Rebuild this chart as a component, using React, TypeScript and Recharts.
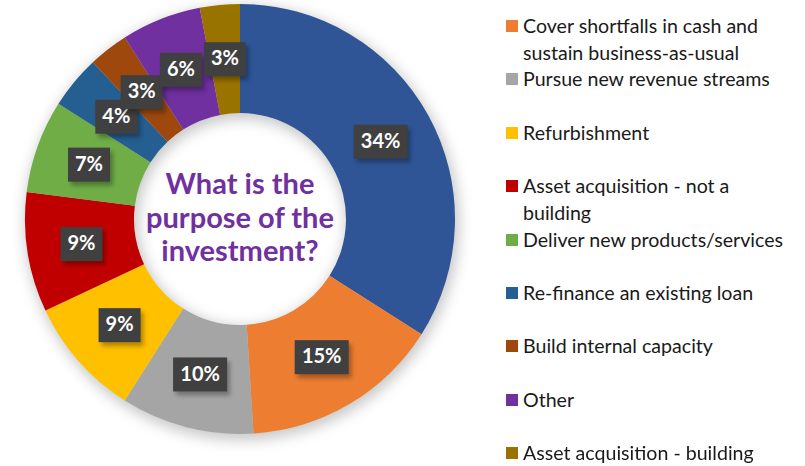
import { PieChart, Pie, Cell, Legend } from "recharts"

const categories = [
  "Main purpose",
  "Cover shortfalls in cash and sustain business-as-usual",
  "Pursue new revenue streams",
  "Refurbishment",
  "Asset acquisition - not a building",
  "Deliver new products/services",
  "Re-finance an existing loan",
  "Build internal capacity",
  "Other",
  "Asset acquisition - building",
]
const shares = [34, 15, 10, 9, 9, 7, 4, 3, 6, 3]
const colors = [
  "#2F5597", "#ED7D31", "#A5A5A5", "#FFC000", "#C00000",
  "#70AD47", "#255E91", "#9E480E", "#7030A0", "#997300",
]
// legend lines as wrapped in the original (first slice has no visible entry)
const legendLines = [
  ["Cover shortfalls in cash and", "sustain business-as-usual"],
  ["Pursue new revenue streams"],
  ["Refurbishment"],
  ["Asset acquisition - not a", "building"],
  ["Deliver new products/services"],
  ["Re-finance an existing loan"],
  ["Build internal capacity"],
  ["Other"],
  ["Asset acquisition - building"],
]
const centerLines = ["What is the", "purpose of the", "investment?"]

const data = categories.map((name, i) => ({ name, value: shares[i] }))
const RADIAN = Math.PI / 180

function renderLabel(props: any) {
  const { cx, cy, midAngle, innerRadius, outerRadius, value } = props
  const r = (innerRadius + outerRadius) / 2
  const x = cx + r * Math.cos(-midAngle * RADIAN)
  const y = cy + r * Math.sin(-midAngle * RADIAN)
  const txt = `${value}%`
  const w = 18 + 12 * txt.length
  const h = 34
  return (
    <g>
      <rect x={x - w / 2 + 3} y={y - h / 2 + 4} width={w} height={h} fill="rgba(0,0,0,0.3)" style={{ filter: "blur(2px)" }} />
      <rect x={x - w / 2} y={y - h / 2} width={w} height={h} fill="#404040" />
      <text x={x} y={y + 1} fill="#fff" textAnchor="middle" dominantBaseline="middle"
        fontFamily="Lato, sans-serif" fontWeight={700} fontSize={20}>
        {txt}
      </text>
    </g>
  )
}

function LegendBox() {
  return (
    <div style={{ position: "relative", width: 300, height: 466, fontFamily: "Lato, sans-serif", fontSize: 19.6, color: "#1a1a1a" }}>
      {legendLines.map((lines, i) => (
        <div key={i} style={{ position: "absolute", left: 0, top: 26 + i * 53.4 - 13, display: "flex", alignItems: "flex-start" }}>
          <div style={{ width: 12, height: 12, background: colors[i + 1], marginTop: 7, marginRight: 5 }} />
          <div style={{ lineHeight: "26.5px", whiteSpace: "nowrap" }}>
            {lines.map((l, j) => <div key={j}>{l}</div>)}
          </div>
        </div>
      ))}
    </div>
  )
}

export default function App() {
  return (
    <div style={{ position: "fixed", left: 0, top: 0, width: 805, height: 466, background: "#fff" }}>
      <PieChart width={805} height={466} margin={{ top: 0, right: 0, bottom: 0, left: 0 }}>
        <Pie
          data={[{ name: "shadow", value: 1 }]}
          dataKey="value"
          cx={242}
          cy={223}
          innerRadius={104}
          outerRadius={217}
          fill="rgba(0,0,0,0.22)"
          stroke="none"
          isAnimationActive={false}
          style={{ filter: "blur(7px)" }}
        />
        <Pie
          data={data}
          dataKey="value"
          cx={240}
          cy={219}
          innerRadius={106}
          outerRadius={215}
          startAngle={90}
          endAngle={-270}
          stroke="none"
          label={renderLabel}
          labelLine={false}
          isAnimationActive={false}
        >
          {data.map((d, i) => (
            <Cell key={d.name} fill={colors[i]} />
          ))}
        </Pie>
        <Legend
          layout="vertical"
          align="right"
          verticalAlign="top"
          wrapperStyle={{ left: 506, top: 0, width: 300 }}
          content={() => <LegendBox />}
        />
      </PieChart>
      <div style={{ position: "absolute", left: 130, top: 166, width: 220, textAlign: "center", color: "#7030A0", fontFamily: "Lato, sans-serif", fontWeight: 700, fontSize: 29, lineHeight: "33.5px" }}>
        {centerLines.map((l) => <div key={l}>{l}</div>)}
      </div>
    </div>
  )
}
